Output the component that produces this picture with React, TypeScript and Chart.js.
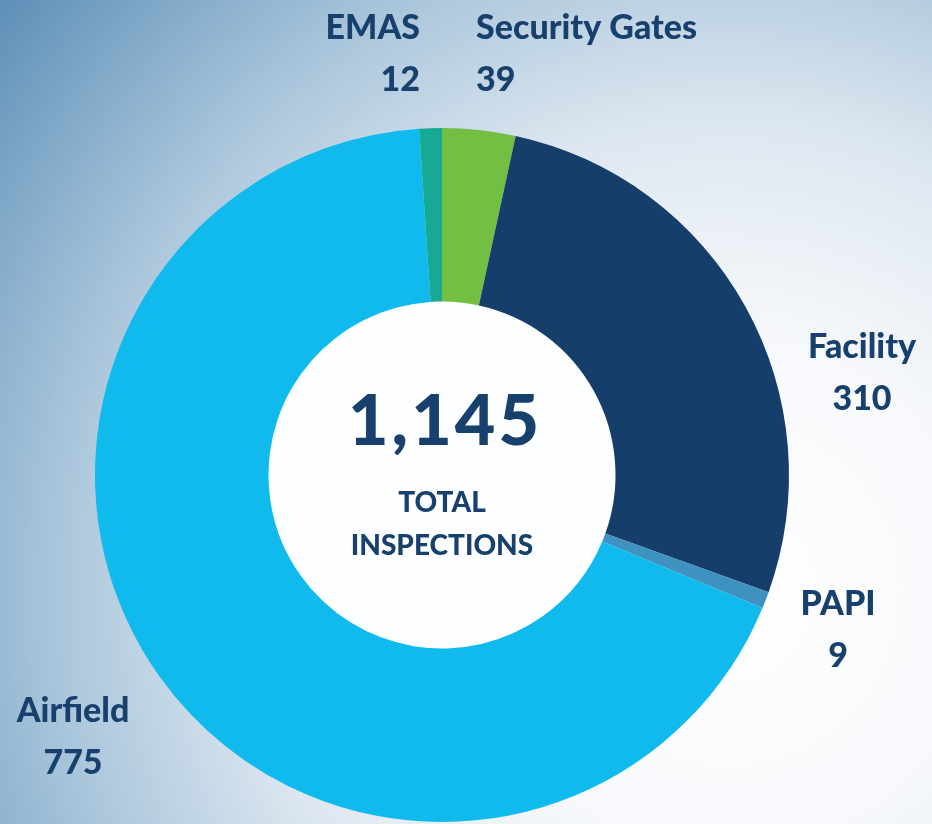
import React, { useEffect, useRef } from "react";
import { Chart, registerables } from "chart.js";

Chart.register(...registerables);

const categories = ["Security Gates", "Facility", "PAPI", "Airfield", "EMAS"];
const inspections = [39, 310, 9, 775, 12];
const sliceColors = ["#72bf44", "#153e6b", "#3d92c0", "#10baed", "#16aa94"];
const totalLabel = "1,145";
const centerCaption = ["TOTAL", "INSPECTIONS"];

// label layout: offsets from doughnut centre (px), alignment
const labelLayout = [
  { dx: 34, dy: -436, align: "left" },
  { dx: 420, dy: -117, align: "center" },
  { dx: 396, dy: 140, align: "center" },
  { dx: -369, dy: 247, align: "center" },
  { dx: -22, dy: -436, align: "right" },
];

const TEXT = "#17406d";
const FONT = "Lato, 'Open Sans', sans-serif";

const labelPlugin = {
  id: "labelPlugin",
  beforeDatasetsDraw(chart: any) {
    const meta = chart.getDatasetMeta(0);
    const arc = meta.data[0];
    if (!arc) return;
    const { x, y, innerRadius } = arc.getProps(["x", "y", "innerRadius"], true);
    const ctx = chart.ctx;
    ctx.save();
    ctx.beginPath();
    ctx.arc(x, y, innerRadius + 1, 0, Math.PI * 2);
    ctx.fillStyle = "#fdfeff";
    ctx.fill();
    ctx.restore();
  },
  afterDraw(chart: any) {
    const meta = chart.getDatasetMeta(0);
    const arc = meta.data[0];
    if (!arc) return;
    const { x, y } = arc.getProps(["x", "y"], true);
    const ctx = chart.ctx;
    ctx.save();
    ctx.fillStyle = TEXT;
    ctx.textBaseline = "alphabetic";
    categories.forEach((c, i) => {
      const l = labelLayout[i];
      ctx.textAlign = l.align;
      ctx.font = `900 34px ${FONT}`;
      ctx.fillText(c, x + l.dx, y + l.dy);
      ctx.fillText(String(inspections[i]), x + l.dx, y + l.dy + 52);
    });
    ctx.textAlign = "center";
    ctx.font = `900 70px ${FONT}`;
    (ctx as any).letterSpacing = "3px";
    ctx.fillText(totalLabel, x + 3, y - 30);
    (ctx as any).letterSpacing = "0px";
    ctx.font = `900 28px ${FONT}`;
    ctx.fillText(centerCaption[0], x, y + 37);
    ctx.fillText(centerCaption[1], x, y + 80);
    ctx.restore();
  },
};

export default function App() {
  const ref = useRef<HTMLCanvasElement>(null);
  useEffect(() => {
    document.body.style.margin = "0";
    const chart = new Chart(ref.current!, {
      type: "doughnut",
      data: {
        labels: categories,
        datasets: [
          {
            data: inspections,
            backgroundColor: sliceColors,
            borderWidth: 0,
          },
        ],
      },
      options: {
        animation: false,
        responsive: false,
        cutout: "50%",
        layout: { padding: { left: 95, right: 143, top: 128, bottom: 2 } },
        plugins: { legend: { display: false }, tooltip: { enabled: false } },
      },
      plugins: [labelPlugin],
    });
    return () => chart.destroy();
  }, []);
  return (
    <div
      style={{
        position: "fixed",
        left: 0,
        top: 0,
        width: 932,
        height: 824,
        background:
          "radial-gradient(circle at 78% 72%, #ffffff 0%, #f6f8fb 28%, #dde7f0 50%, #a9c5db 72%, #5d8fb7 100%)",
      }}
    >
      <canvas ref={ref} width={932} height={824} style={{ display: "block" }} />
    </div>
  );
}
